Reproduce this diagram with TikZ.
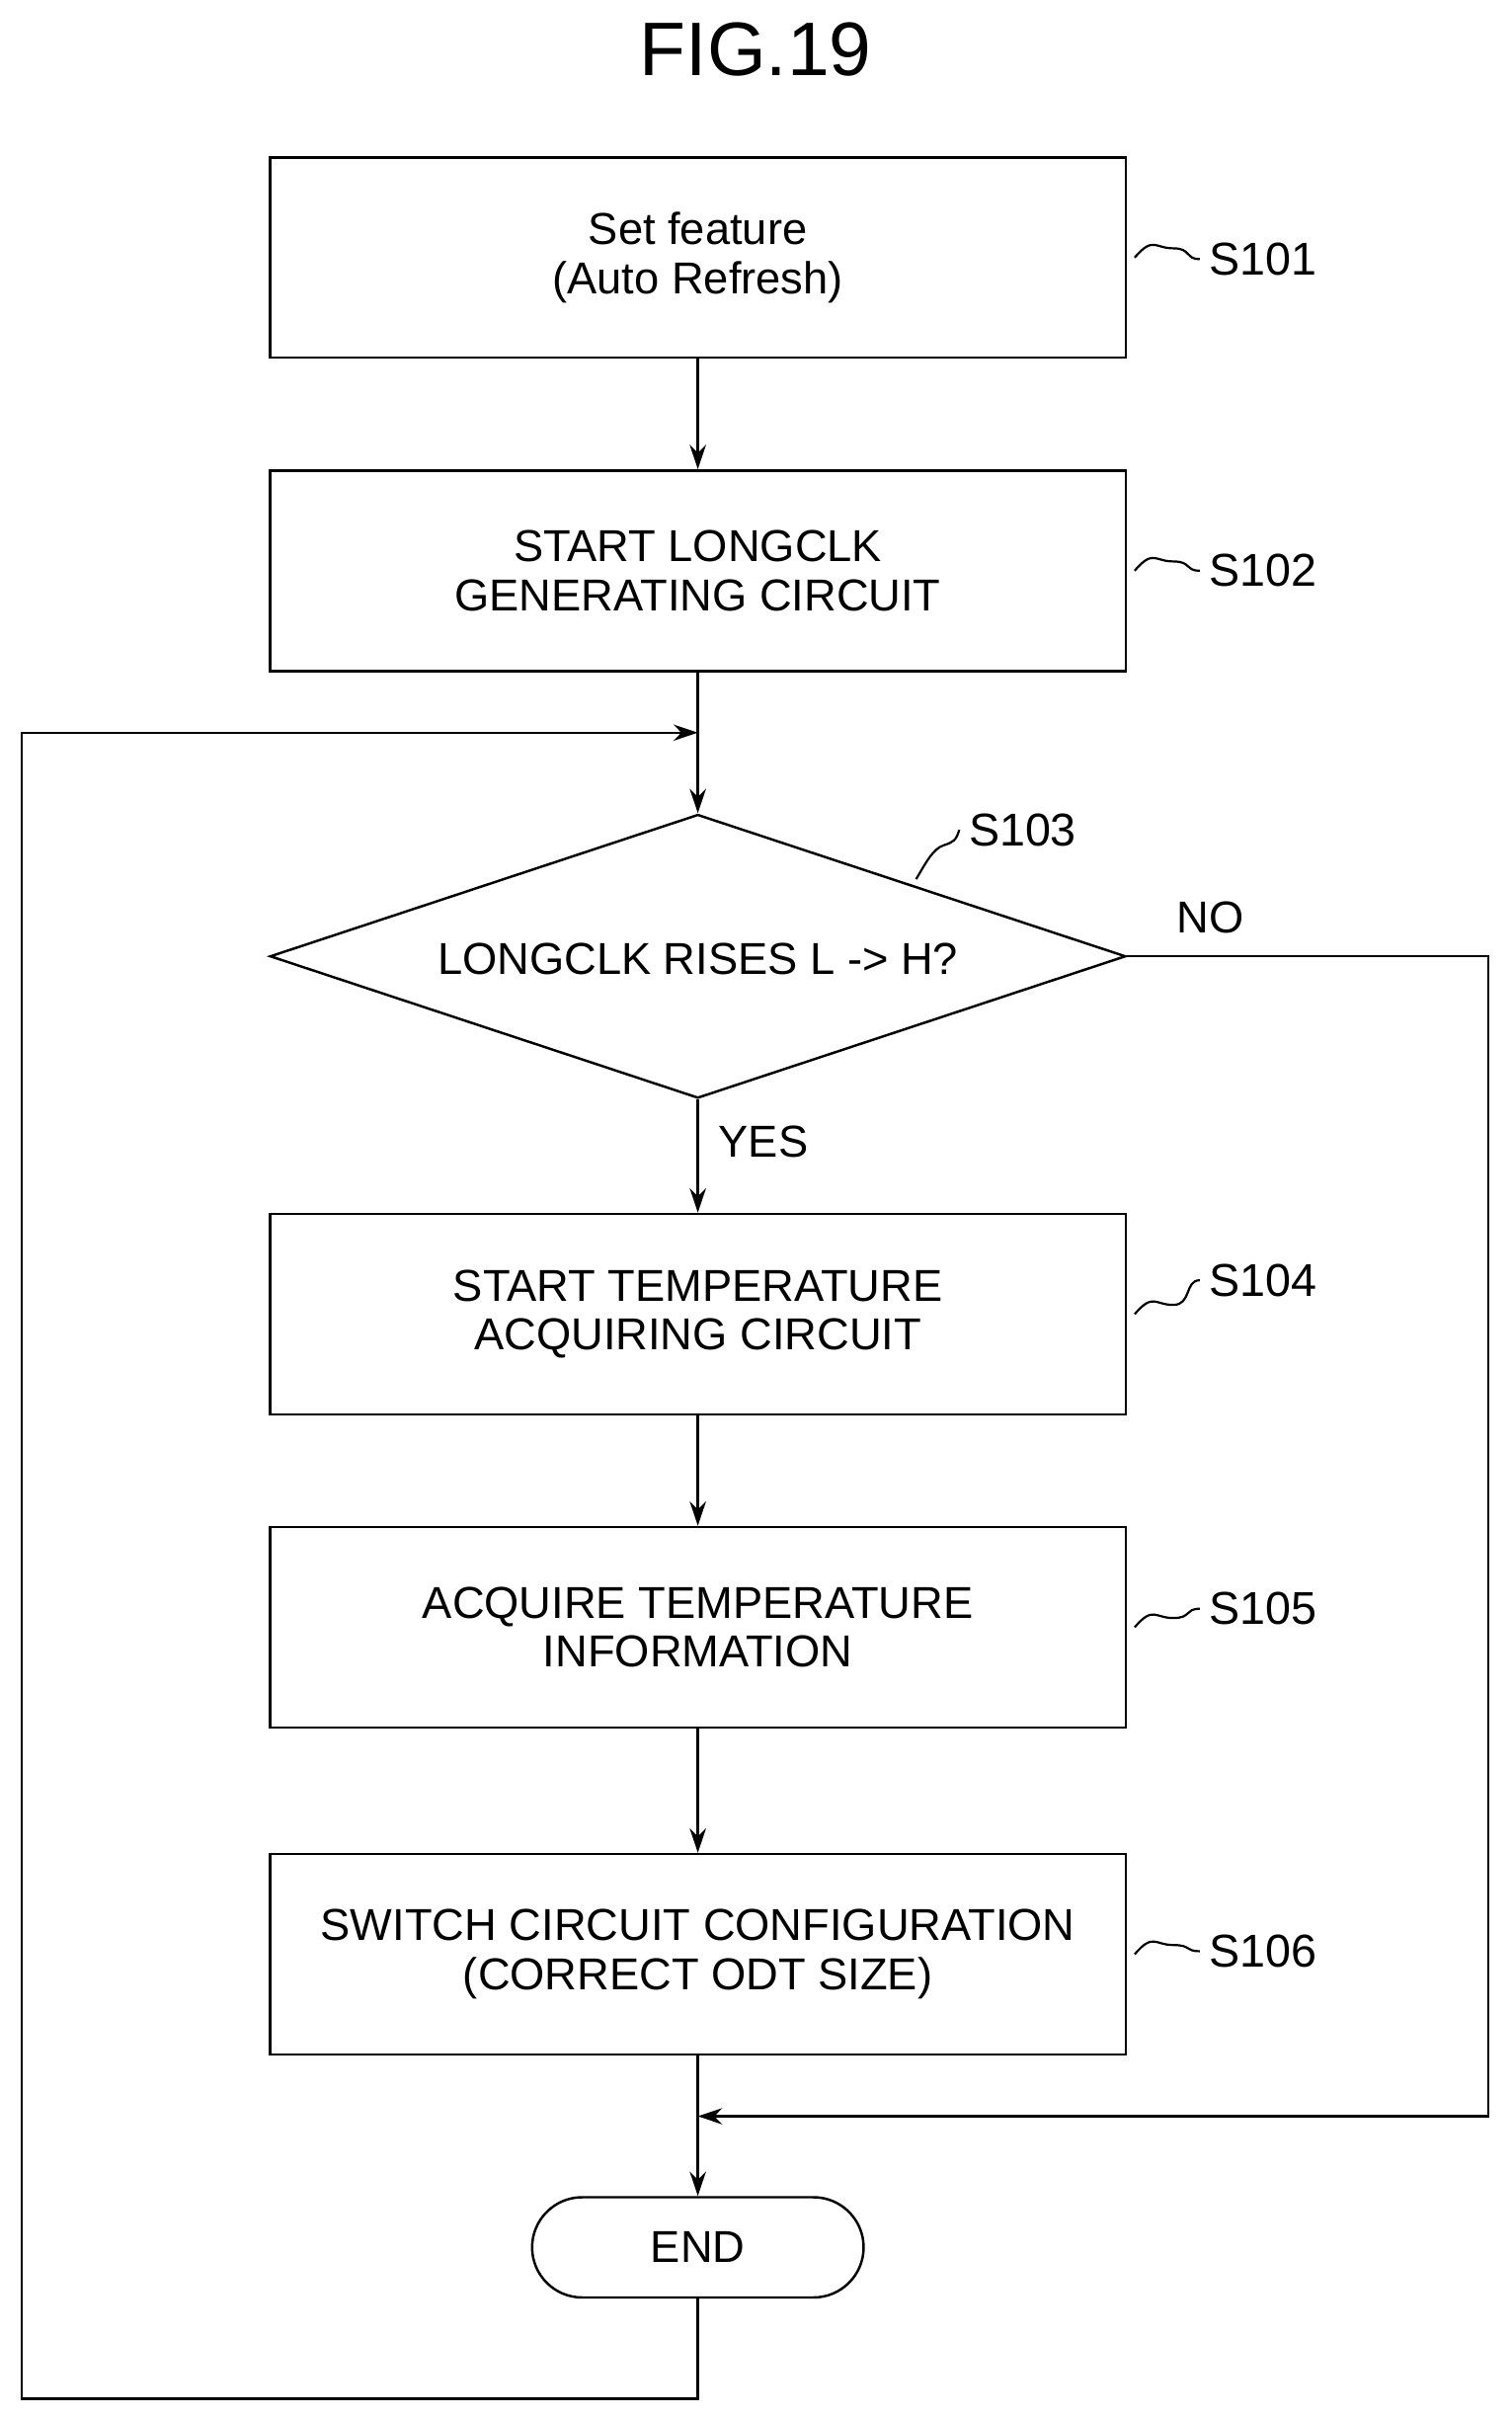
\documentclass[tikz,border=0pt]{standalone}
\usepackage{fontspec}
\setmainfont{Liberation Sans}
\usetikzlibrary{shapes.geometric,arrows.meta}
\begin{document}
\begin{tikzpicture}[x=0.02cm,y=-0.02cm,
  every node/.style={font=\fontsize{16.5}{18}\selectfont},
  box/.style={draw,line width=0.9pt,minimum width=11.1cm,minimum height=2.6cm,align=center,inner sep=0},
  line/.style={line width=0.9pt},
  arr/.style={line width=0.9pt,-{Stealth[length=9pt,width=6pt]}},
  lab/.style={anchor=west,font=\fontsize{17}{20}\selectfont}]
\useasboundingbox (0,0) rectangle (980,1567);
\node (title) at (490,32) {\fontsize{28}{32}\selectfont FIG.19};
\node[box] (b1) at (452.5,167) {Set feature\\(Auto Refresh)};
\node[box] (b2) at (452.5,370) {START LONGCLK\\GENERATING CIRCUIT};
\node[draw,line width=0.9pt,diamond,aspect=3.0,minimum width=11.1cm,minimum height=3.68cm,inner sep=0] (d) at (452.5,620) {};
\node at (452.5,622) {LONGCLK RISES L -> H?};
\node[box] (b4) at (452.5,852) {START TEMPERATURE\\ACQUIRING CIRCUIT};
\node[box] (b5) at (452.5,1055) {ACQUIRE TEMPERATURE\\INFORMATION};
\node[box] (b6) at (452.5,1267) {SWITCH CIRCUIT CONFIGURATION\\(CORRECT ODT SIZE)};
\node[draw,line width=0.9pt,rounded corners=0.65cm,minimum width=4.3cm,minimum height=1.3cm] (end) at (452.5,1457) {END};
% step labels
\node[lab] (s1) at (778,168) {S101};
\node[lab] (s2) at (778,370) {S102};
\node[lab] (s3) at (622,538) {S103};
\node[lab] (s4) at (778,830) {S104};
\node[lab] (s5) at (778,1043) {S105};
\node[lab] (s6) at (778,1265) {S106};
\foreach \b/\s in {b1/s1,b2/s2,b4/s4,b5/s5,b6/s6}{
  \draw[line width=0.8pt] (\b.east) ++(5,0) .. controls +(12,-14) and +(-12,0) .. ++(25,-6) .. controls +(12,0) and +(-10,0) .. (\s.west);}
\draw[line width=0.8pt] (594,570) .. controls (600,560) and (605,550) .. (612,548) .. controls (618,546) and (620,545) .. (s3.west);
\node at (785,595) {NO};
\node at (495,740) {YES};
% flow
\coordinate (j1) at (452.5,475);
\coordinate (j2) at (452.5,1372);
\draw[arr] (b1) -- (b2);
\draw[arr] (b2) -- (d.north);
\draw[arr] (d.south) -- (b4);
\draw[arr] (b4) -- (b5);
\draw[arr] (b5) -- (b6);
\draw[arr] (b6) -- (end);
\draw[arr] (d.east) -- (965,620) -- (965,1372) -- (j2);
\draw[arr] (end.south) -- (452.5,1555) -- (14,1555) -- (14,475) -- (j1);
\end{tikzpicture}
\end{document}
